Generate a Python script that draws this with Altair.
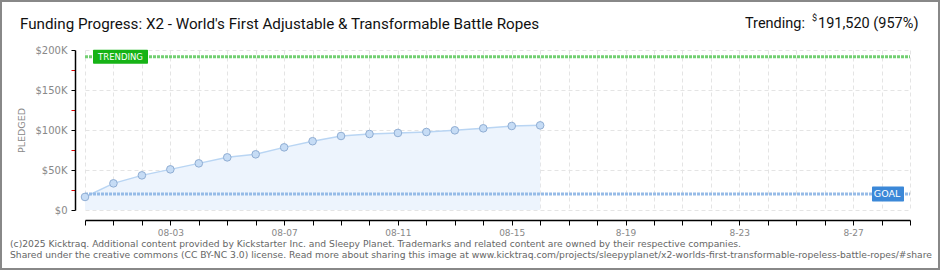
import altair as alt
import pandas as pd

# ---- data ----
dates = ["2025-07-31", "2025-08-01", "2025-08-02", "2025-08-03", "2025-08-04",
         "2025-08-05", "2025-08-06", "2025-08-07", "2025-08-08", "2025-08-09",
         "2025-08-10", "2025-08-11", "2025-08-12", "2025-08-13", "2025-08-14",
         "2025-08-15", "2025-08-16"]
pledged = [16300, 33300, 43300, 50800, 58300, 65800, 69600, 78300, 86000,
           92500, 95000, 96300, 97500, 99600, 102100, 105000, 105800]
goal = 20000
trending = 191520
x_domain = ["2025-07-31", "2025-08-29"]
tick_dates = ["2025-07-31"] + [f"2025-08-{d:02d}" for d in range(1, 30)]
label_dates = ["2025-08-03", "2025-08-07", "2025-08-11", "2025-08-15",
               "2025-08-19", "2025-08-23", "2025-08-27"]
label_texts = ["08-03", "08-07", "08-11", "08-15", "8-19", "8-23", "8-27"]
y_ticks = [0, 25000, 50000, 75000, 100000, 125000, 150000, 175000, 200000]
title_text = "Funding Progress: X2 - World's First Adjustable & Transformable Battle Ropes"
trend_text = "191,520 (957%)"
footer1 = ("(c)2025 Kicktraq. Additional content provided by Kickstarter Inc. and Sleepy Planet. "
           "Trademarks and related content are owned by their respective companies.")
footer2 = ("Shared under the creative commons (CC BY-NC 3.0) license. Read more about sharing this image at "
           "www.kicktraq.com/projects/sleepyplanet/x2-worlds-first-transformable-ropeless-battle-ropes/#share")

df = pd.DataFrame({"date": dates, "pledged": pledged})
one = pd.DataFrame({"a": [0]})

label_map = "{" + ",".join(f"'{d}':'{t}'" for d, t in zip(label_dates, label_texts)) + "}"
x_label_expr = f"{label_map}[utcFormat(datum.value, '%Y-%m-%d')] || ''"

yscale = alt.Scale(domain=[0, 200000], nice=False)

x_enc = alt.X("date:T", scale=alt.Scale(type="utc", domain=x_domain),
              axis=alt.Axis(values=tick_dates, labelExpr=x_label_expr, title=None,
                            offset=10, domain=True, domainColor="#000", domainWidth=1.5,
                            tickColor="#000", tickSize=5, tickWidth=1,
                            labelColor="#888", labelFont="DejaVu Sans", labelFontSize=9,
                            labelPadding=3, gridColor="#e4e4e4", gridDash=[4, 3],
                            labelOverlap=False, labelFlush=False))
y_axis = alt.Axis(values=y_ticks, title="PLEDGED", offset=10,
                  labelExpr="datum.value % 50000 == 0 ? (datum.value == 0 ? '$0' : '$' + datum.value/1000 + 'K') : ''",
                  domain=True, domainColor="#000", domainWidth=1.5,
                  tickSize=4, tickWidth=1,
                  tickColor=alt.condition("datum.value % 50000 != 0", alt.value("#e00000"), alt.value("#000")),
                  gridOpacity=alt.condition("datum.value % 50000 != 0", alt.value(0), alt.value(1)),
                  gridColor="#e4e4e4", gridDash=[4, 3],
                  labelOverlap=False, labelFlush=False,
                  labelColor="#888", labelFont="DejaVu Sans", labelFontSize=10,
                  labelPadding=4, titleColor="#888", titleFont="DejaVu Sans",
                  titleFontSize=9.5, titleFontWeight="normal", titlePadding=8)
y_enc = alt.Y("pledged:Q", scale=yscale, axis=y_axis)

base = alt.Chart(df).encode(x=x_enc, y=y_enc)
area = base.mark_area(color="#edf4fd", opacity=1)
line = base.mark_line(color="#b9d5f3", strokeWidth=1.5)
pts = base.mark_point(filled=True, size=58, fill="#c6dcf5", stroke="#8fadd3",
                      strokeWidth=1, opacity=1)

goal_df = pd.DataFrame({"pledged": [goal]})
trend_df = pd.DataFrame({"pledged": [trending]})
yv2 = alt.Y2("pledged:Q")
goal_rule = alt.Chart(goal_df).mark_rule(
    color="#96bbe7", strokeWidth=3, strokeDash=[3, 1]).encode(
    y=y_enc, x=alt.value(0), x2=alt.value(825))
trend_rule = alt.Chart(trend_df).mark_rule(
    color="#72cf72", strokeWidth=3, strokeDash=[3, 1]).encode(
    y=y_enc, x=alt.value(0), x2=alt.value(825))

goal_box = alt.Chart(goal_df).mark_rect(
    color="#3b88d8", cornerRadius=1, yOffset=-7.5, y2Offset=7.5).encode(
    y=y_enc, y2=yv2, x=alt.value(787), x2=alt.value(819))
goal_lbl = alt.Chart(goal_df).mark_text(
    text="GOAL", color="white", font="DejaVu Sans", fontSize=9.5, align="center",
    baseline="middle").encode(y=y_enc, x=alt.value(802))
trend_box = alt.Chart(trend_df).mark_rect(
    color="#16b316", cornerRadius=1, yOffset=-7, y2Offset=7).encode(
    y=y_enc, y2=yv2, x=alt.value(8), x2=alt.value(63))
trend_lbl = alt.Chart(trend_df).mark_text(
    text="TRENDING", color="white", font="DejaVu Sans", fontSize=8.5, align="center",
    baseline="middle").encode(y=y_enc, x=alt.value(35.5))

hfont = "Roboto"
title = alt.Chart(one).mark_text(text=title_text, font=hfont, fontSize=15.2,
                                 color="#111", align="left", baseline="alphabetic").encode(
    x=alt.value(-65), y=alt.value(-21))
trend_t1 = alt.Chart(one).mark_text(text="Trending:", font=hfont, fontSize=14.5,
                                    color="#111", align="left", baseline="alphabetic").encode(
    x=alt.value(660), y=alt.value(-22))
trend_dollar = alt.Chart(one).mark_text(text="$", font=hfont, fontSize=9,
                                        color="#111", align="left", baseline="alphabetic").encode(
    x=alt.value(727), y=alt.value(-29))
trend_t2 = alt.Chart(one).mark_text(text=trend_text, font=hfont, fontSize=14.5,
                                    color="#111", align="left", baseline="alphabetic").encode(
    x=alt.value(733), y=alt.value(-22))

foot1 = alt.Chart(one).mark_text(text=footer1, font="DejaVu Sans", fontSize=9.2, color="#666",
                                 align="left", baseline="middle").encode(
    x=alt.value(-75), y=alt.value(194))
foot2 = alt.Chart(one).mark_text(text=footer2, font="DejaVu Sans", fontSize=9.2, color="#666",
                                 align="left", baseline="middle").encode(
    x=alt.value(-75), y=alt.value(205))

border = alt.Chart(one).mark_rect(fill="transparent", stroke="#888", strokeWidth=2).encode(
    x=alt.value(-84), x2=alt.value(854), y=alt.value(-49), y2=alt.value(219))

chart = alt.layer(area, line, goal_rule, trend_rule, pts, goal_box, goal_lbl,
                  trend_box, trend_lbl, title, trend_t1, trend_dollar, trend_t2,
                  foot1, foot2, border).properties(
    width=825, height=160,
    padding={"left": 85, "top": 50, "right": 30, "bottom": 60},
    autosize=alt.AutoSizeParams(type="none"),
    background="white",
).configure_view(stroke=None).configure_axis(
    domainColor="#000", domainWidth=1.5, labelOverlap=False
)

chart.save("out.html", embed_options={"renderer": "svg", "actions": False})
